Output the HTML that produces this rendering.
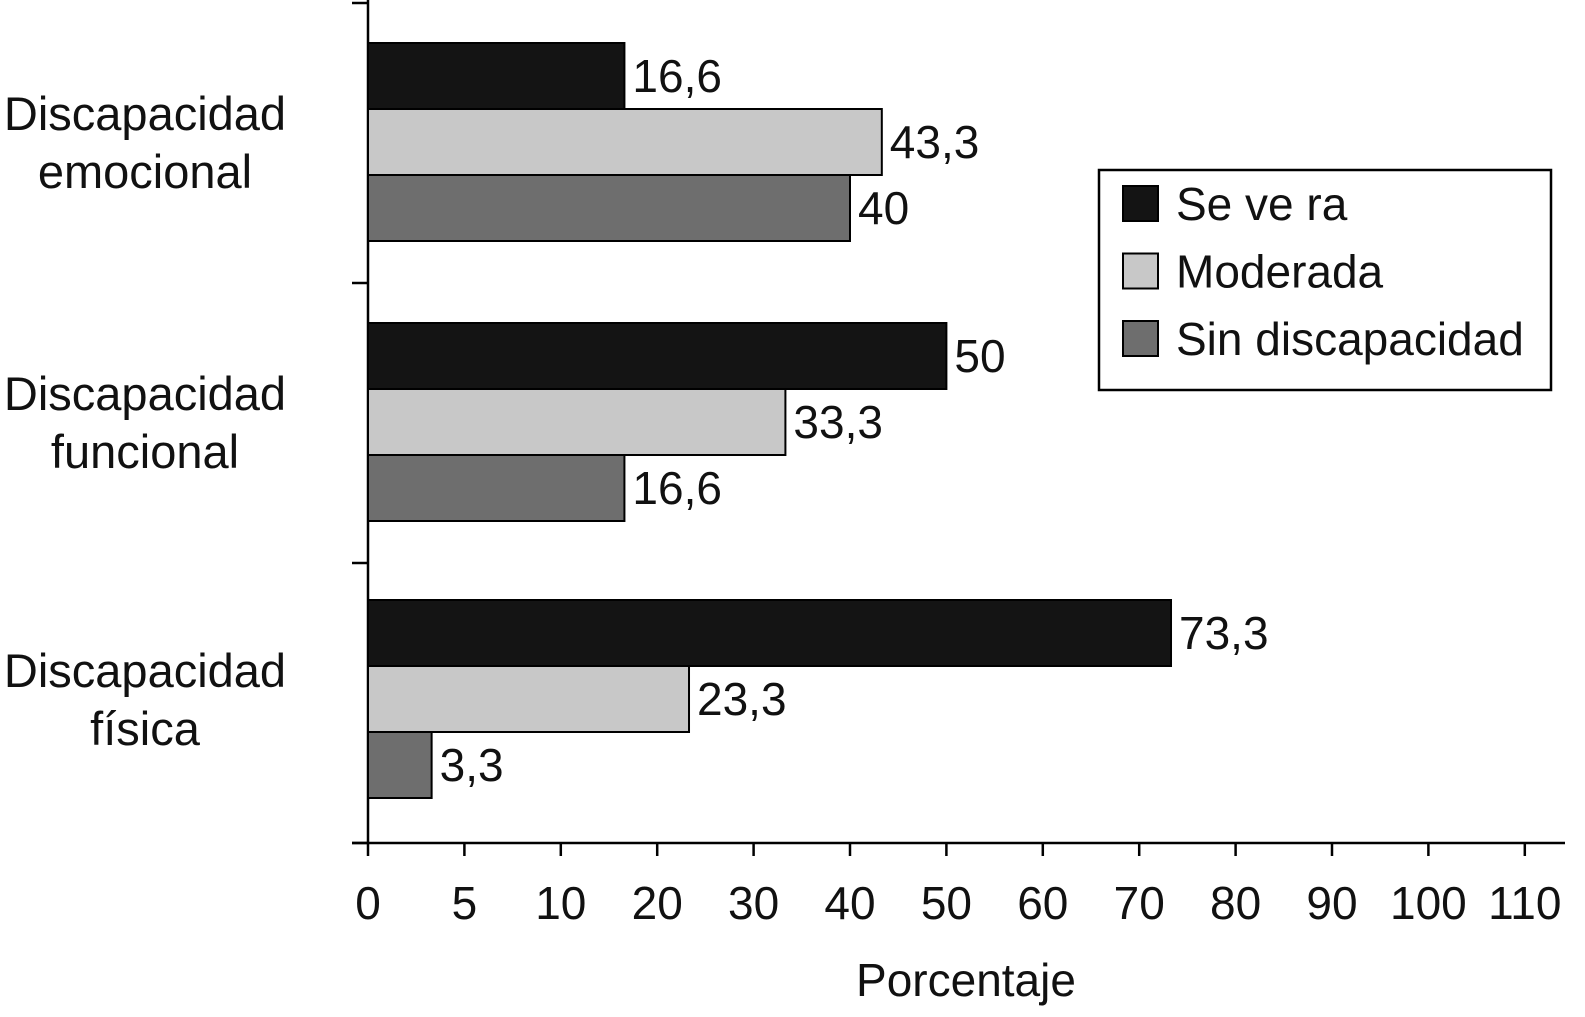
<!DOCTYPE html>
<html><head><meta charset="utf-8"><style>
html,body{margin:0;padding:0;background:#fff;}
svg{display:block;font-family:"Liberation Sans",sans-serif;}
</style></head><body>
<svg id="chart" width="1585" height="1017" viewBox="0 0 1585 1017" xmlns="http://www.w3.org/2000/svg"></svg>
<script>
const categories = ["emocional", "funcional", "física"];
const severa = [16.6, 50, 73.3];
const moderada = [43.3, 33.3, 23.3];
const sinDiscapacidad = [40, 16.6, 3.3];
const valueLabels = [["16,6","43,3","40"],["50","33,3","16,6"],["73,3","23,3","3,3"]];
const tickValues = [0,5,10,20,30,40,50,60,70,80,90,100,110];
const seriesNames = ["Se ve ra","Moderada","Sin discapacidad"];

const NS="http://www.w3.org/2000/svg";
const svg=document.getElementById('chart');
function el(t,a,p){const e=document.createElementNS(NS,t);for(const k in a)e.setAttribute(k,a[k]);(p||svg).appendChild(e);return e;}
const x0=368, step=96.4;
function xScale(v){
  for(let i=0;i<tickValues.length-1;i++){
    if(v<=tickValues[i+1]){return x0+(i+(v-tickValues[i])/(tickValues[i+1]-tickValues[i]))*step;}
  }
  return x0+(tickValues.length-1)*step;
}
const groupTop=[43,323,600], barH=66;
const colors=["#141414","#c8c8c8","#6e6e6e"];
const series=[severa,moderada,sinDiscapacidad];
const snames=["severa","moderada","sin-discapacidad"];
const FS=46;

let a=el('line',{x1:x0,y1:0,x2:x0,y2:843,stroke:'#000','stroke-width':2.5});


a=el('line',{x1:352,y1:843,x2:1565,y2:843,stroke:'#000','stroke-width':2.5});


[3,283,563,843].forEach(y=>{
  const t=el('line',{x1:352,y1:y,x2:x0,y2:y,stroke:'#000','stroke-width':2.5});
  
  
});
tickValues.forEach((v,i)=>{
  const x=x0+i*step;
  const t=el('line',{x1:x,y1:843,x2:x,y2:856,stroke:'#000','stroke-width':2.5});
  
  
  const l=el('text',{x:x,y:919,'font-size':FS,'text-anchor':'middle',fill:'#111'});
  l.textContent=v;
  
  
});
const xt=el('text',{x:966,y:996,'font-size':FS,'text-anchor':'middle',fill:'#111'});
xt.textContent='Porcentaje';



categories.forEach((c,g)=>{
  const t1=el('text',{x:145,y:groupTop[g]+87,'font-size':47,'text-anchor':'middle',fill:'#111'});
  t1.textContent='Discapacidad';
  
  
  const t2=el('text',{x:145,y:groupTop[g]+145,'font-size':47,'text-anchor':'middle',fill:'#111'});
  t2.textContent=c;
  
  
  series.forEach((s,k)=>{
    const y=groupTop[g]+k*barH;
    const xe=xScale(s[g]);
    const r=el('rect',{x:x0,y:y,width:xe-x0,height:barH,fill:colors[k],stroke:'#000','stroke-width':2});
    
    
    const vl=el('text',{x:xe+8,y:y+barH/2+16,'font-size':FS,fill:'#111'});
    vl.textContent=valueLabels[g][k];
    
    
  });
});

const lg=el('g',{});


el('rect',{x:1099,y:170,width:452,height:220,fill:'#fff',stroke:'#000','stroke-width':2.5},lg);
seriesNames.forEach((n,k)=>{
  const cy=203+k*67.5;
  const sw=el('rect',{x:1123,y:cy-17,width:35,height:35,fill:colors[k],stroke:'#000','stroke-width':2},lg);
  
  
  const t=el('text',{x:1176,y:cy+17,'font-size':FS,fill:'#111','xml:space':'preserve'},lg);
  t.style.whiteSpace='pre';
  t.textContent=n;
  
  
});
</script>
</body></html>
